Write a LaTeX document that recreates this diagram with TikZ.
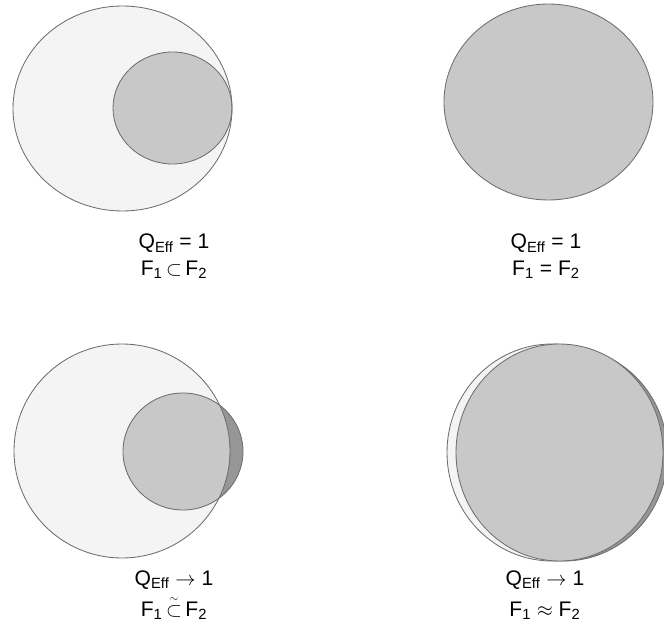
\documentclass[tikz,border=0pt]{standalone}
\usepackage{amsmath,amssymb}
\usepackage{fontspec}
\setmainfont{Liberation Sans}
\usetikzlibrary{positioning}

\definecolor{setlight}{RGB}{244,244,244}
\definecolor{setmid}{RGB}{200,200,200}
\definecolor{setdark}{RGB}{150,150,150}
\definecolor{setline}{RGB}{110,110,110}

\begin{document}
\begin{tikzpicture}[
  x=0.025cm, y=-0.025cm,
  font=\fontsize{15}{19}\selectfont,
  outline/.style={draw=setline,line width=0.6pt},
  lbl/.style={align=center,inner sep=0pt}]

\useasboundingbox (0,0) rectangle (664,629);

% --- top left: F1 inside F2 ---
\coordinate (bigA) at (122.5,108.5);
\coordinate (smA) at (172.5,108);
\fill[setlight] (bigA) ellipse [x radius=109.5,y radius=102.5];
\fill[setmid] (smA) ellipse [x radius=59.5,y radius=56];
\draw[outline] (bigA) ellipse [x radius=109.5,y radius=102.5];
\draw[outline] (smA) ellipse [x radius=59.5,y radius=56];
\node[lbl] (labA) at (174,256)
  {Q\textsubscript{Eff} = 1\\ F\textsubscript{1}\,$\subset$\,F\textsubscript{2}};

% --- top right: F1 = F2 ---
\coordinate (bigB) at (548.5,102);
\fill[setmid] (bigB) ellipse [x radius=104.5,y radius=98];
\draw[outline] (bigB) ellipse [x radius=104.5,y radius=98];
\node[lbl] (labB) at (546,256)
  {Q\textsubscript{Eff} = 1\\ F\textsubscript{1} = F\textsubscript{2}};

% --- bottom left: F1 almost inside F2 ---
\coordinate (bigC) at (122,451);
\coordinate (smC) at (183,451.5);
\fill[setlight] (bigC) ellipse [x radius=108,y radius=107];
\fill[setdark] (smC) ellipse [x radius=60,y radius=58.5];
\begin{scope}
  \clip (bigC) ellipse [x radius=108,y radius=107];
  \fill[setmid] (smC) ellipse [x radius=60,y radius=58.5];
\end{scope}
\draw[outline] (bigC) ellipse [x radius=108,y radius=107];
\draw[outline] (smC) ellipse [x radius=60,y radius=58.5];
\node[lbl] (labC) at (174,595)
  {Q\textsubscript{Eff} $\rightarrow$ 1\\[3pt]
   F\textsubscript{1}\,$\overset{\scriptscriptstyle\sim}{\subset}$\,F\textsubscript{2}};

% --- bottom right: F1 about F2, small shift ---
\coordinate (backD) at (552,452.5);
\coordinate (shadD) at (564,454);
\coordinate (topD) at (559.5,452.5);
\fill[setlight] (backD) ellipse [x radius=105,y radius=108.5];
\draw[outline] (backD) ellipse [x radius=105,y radius=108.5];
\fill[setdark] (shadD) ellipse [x radius=103.5,y radius=107];
\draw[outline] (shadD) ellipse [x radius=103.5,y radius=107];
\fill[setmid] (topD) ellipse [x radius=103.5,y radius=108.5];
\draw[outline] (topD) ellipse [x radius=103.5,y radius=108.5];
\node[lbl] (labD) at (545,595)
  {Q\textsubscript{Eff} $\rightarrow$ 1\\[3pt] F\textsubscript{1} $\approx$ F\textsubscript{2}};

\end{tikzpicture}
\end{document}
